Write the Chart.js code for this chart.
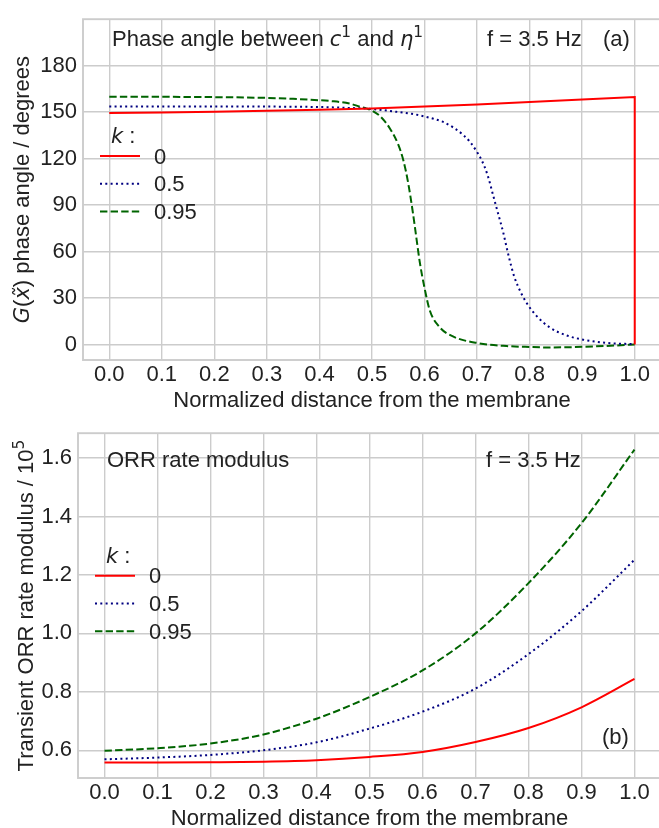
<!DOCTYPE html>
<html>
<head>
<meta charset="utf-8">
<script src="https://cdn.jsdelivr.net/npm/chart.js@4.4.1/dist/chart.umd.min.js"></script>
<style>
	html, body { margin: 0; padding: 0; background: #fff; overflow: hidden; }
	#wrap { position: relative; width: 659px; height: 828px; overflow: hidden; }
	canvas { position: absolute; left: 0; }
	#phaseChart { top: 0; }
	#orrChart { top: 414px; }
</style>
</head>
<body>
<div id="wrap">
	<canvas id="phaseChart" width="670" height="414"></canvas>
	<canvas id="orrChart" width="670" height="418"></canvas>
</div>
<script>
var FONT = '"Liberation Sans", Arial, sans-serif';
var MATH = '"DejaVu Sans", sans-serif';
var TEXT = "#222";
var GRID = "#cccccc";

// tick labels
var xTicks = [0, 0.1, 0.2, 0.3, 0.4, 0.5, 0.6, 0.7, 0.8, 0.9, 1.0];
var phaseTicks = [0, 30, 60, 90, 120, 150, 180];
var orrTicks = [0.6, 0.8, 1.0, 1.2, 1.4, 1.6];
var kLabels = ["0", "0.5", "0.95"];

// (a) phase angle, degrees
var phaseX0 = [0, 0.1, 0.2, 0.3, 0.4, 0.5, 0.6, 0.7, 0.8, 0.9, 1.0, 1.0];
var phase0 = [149.5, 149.8, 150.3, 150.9, 151.6, 152.3, 153.6, 155.0, 156.5, 158.1, 159.7, 0];

var phaseX05 = [0, 0.1, 0.2, 0.3, 0.4, 0.45, 0.5, 0.54, 0.576, 0.598, 0.617, 0.636, 0.655, 0.674, 0.687,
	0.699, 0.709, 0.72, 0.73, 0.74, 0.75, 0.756, 0.762, 0.771, 0.784, 0.797, 0.813, 0.838, 0.87, 0.902, 0.946, 1.0];
var phase05 = [153.7, 153.7, 153.7, 153.6, 153.3, 152.8, 152.0, 150.5, 148.9, 147.4, 145.7, 143.6, 140, 135.2, 130.6,
	124.7, 118.8, 109.3, 97, 84.5, 72, 63, 54.5, 43.5, 33.1, 25.4, 18.5, 11.1, 5.9, 3.1, 1.05, 0.2];

var phaseX095 = [0, 0.1, 0.2, 0.3, 0.35, 0.4, 0.42, 0.457, 0.477, 0.49, 0.5, 0.515, 0.534, 0.55, 0.56,
	0.569, 0.577, 0.584, 0.591, 0.6, 0.61, 0.629, 0.654, 0.7, 0.756, 0.8, 0.838, 0.9, 0.966, 1.0];
var phase095 = [160, 159.9, 159.7, 159.2, 158.6, 157.7, 157.2, 155.6, 153.5, 152.3, 151.0, 147.5, 139.5, 129, 118.5,
	104, 87, 70, 53, 36.5, 22, 11.1, 5.2, 1.0, -1.0, -1.6, -1.9, -1.5, -0.6, 0];

// (b) ORR rate modulus / 1e5
var orrX = [0, 0.1, 0.2, 0.3, 0.4, 0.5, 0.6, 0.7, 0.8, 0.9, 1.0];
var orr0 = [0.558, 0.558, 0.559, 0.561, 0.566, 0.577, 0.594, 0.628, 0.676, 0.747, 0.844];
var orr05 = [0.569, 0.575, 0.584, 0.600, 0.627, 0.674, 0.732, 0.811, 0.929, 1.076, 1.252];
var orr095 = [0.598, 0.607, 0.623, 0.654, 0.708, 0.782, 0.873, 1.0, 1.172, 1.377, 1.629];

var lineStyles = [
	{ color: "#ff0000", dash: [] },
	{ color: "#000080", dash: [2, 3.3] },
	{ color: "#006400", dash: [7.4, 3.2] }
];

function pts(xs, ys) {
	return xs.map(function (x, i) { return { x: x, y: ys[i] }; });
}

function makeDataset(i, xs, ys, smooth) {
	return {
		label: kLabels[i],
		data: pts(xs, ys),
		borderColor: lineStyles[i].color,
		borderDash: lineStyles[i].dash,
		borderWidth: 2,
		pointRadius: 0,
		fill: false,
		tension: 0,
		cubicInterpolationMode: smooth ? "monotone" : "default"
	};
}

// mixed text: plain runs, math italic runs (m), superscripts (sup)
function runFont(r) {
	if (r.sup) return "15.4px " + MATH;
	if (r.m) return "oblique 21px " + MATH;
	return "22px " + FONT;
}
function drawRuns(ctx, runs, x, y) {
	runs.forEach(function (r) {
		ctx.font = runFont(r);
		ctx.fillText(r.t, x, r.sup ? y - 9 : y);
		x += ctx.measureText(r.t).width;
	});
	return x;
}
function runsWidth(ctx, runs) {
	var w = 0;
	runs.forEach(function (r) {
		ctx.font = runFont(r);
		w += ctx.measureText(r.t).width;
	});
	return w;
}

var decor = {
	id: "decor",
	afterDraw: function (chart, args, o) {
		var ctx = chart.ctx, a = chart.chartArea;
		ctx.save();
		// axes frame
		ctx.strokeStyle = GRID;
		ctx.lineWidth = 1.9;
		ctx.strokeRect(a.left, a.top, a.right - a.left, a.bottom - a.top);

		ctx.fillStyle = TEXT;
		ctx.textBaseline = "alphabetic";
		ctx.textAlign = "left";
		o.texts.forEach(function (t) { drawRuns(ctx, t.runs, t.x, t.y); });

		// y label, rotated
		ctx.save();
		ctx.translate(o.ylabel.x, (a.top + a.bottom) / 2);
		ctx.rotate(-Math.PI / 2);
		drawRuns(ctx, o.ylabel.runs, -runsWidth(ctx, o.ylabel.runs) / 2, 0);
		ctx.restore();

		// legend
		var L = o.legend;
		drawRuns(ctx, [{ t: "k", m: true }, { t: " :" }], L.x + 11, L.y - 13);
		chart.data.datasets.forEach(function (ds, i) {
			var y = L.y + i * 27.8;
			ctx.strokeStyle = ds.borderColor;
			ctx.lineWidth = 2;
			ctx.setLineDash(ds.borderDash);
			ctx.beginPath();
			ctx.moveTo(L.x, y);
			ctx.lineTo(L.x + 40, y);
			ctx.stroke();
			ctx.setLineDash([]);
			ctx.font = "22px " + FONT;
			ctx.fillText(ds.label, L.x + 54, y + 7.5);
		});
		ctx.restore();
	}
};

function axisX() {
	return {
		type: "linear",
		min: -0.05,
		max: 1.05,
		afterBuildTicks: function (s) { s.ticks = xTicks.map(function (v) { return { value: v }; }); },
		afterFit: function (s) { s.height = 54; },
		grid: { color: GRID, lineWidth: 1.4, drawTicks: false },
		border: { display: false },
		ticks: {
			padding: 2, color: TEXT, maxRotation: 0, autoSkip: false,
			font: { family: FONT, size: 22 },
			callback: function (v) { return v.toFixed(1); }
		},
		title: {
			display: true,
			text: "Normalized distance from the membrane",
			color: TEXT,
			font: { family: FONT, size: 22 },
			padding: { top: 0, bottom: 0 }
		}
	};
}

function axisY(min, max, ticks, width, fmt) {
	return {
		type: "linear",
		min: min,
		max: max,
		afterBuildTicks: function (s) { s.ticks = ticks.map(function (v) { return { value: v }; }); },
		afterFit: function (s) { s.width = width; },
		grid: { color: GRID, lineWidth: 1.4, drawTicks: false },
		border: { display: false },
		ticks: { padding: 6, color: TEXT, font: { family: FONT, size: 22 }, callback: fmt }
	};
}

new Chart(document.getElementById("phaseChart"), {
	type: "line",
	data: {
		datasets: [
			makeDataset(0, phaseX0, phase0, false),
			makeDataset(1, phaseX05, phase05, true),
			makeDataset(2, phaseX095, phase095, true)
		]
	},
	options: {
		responsive: false,
		animation: false,
		layout: { padding: { top: 11, right: 9, left: 0, bottom: 0 } },
		scales: {
			x: axisX(),
			y: axisY(-10, 210, phaseTicks, 83, function (v) { return String(v); })
		},
		plugins: {
			legend: { display: false },
			tooltip: { enabled: false },
			decor: {
				texts: [
					{ x: 112, y: 46, runs: [{ t: "Phase angle between " }, { t: "c", m: true }, { t: "1", sup: true },
						{ t: " and " }, { t: "\u03b7", m: true }, { t: "1", sup: true }] },
					{ x: 487, y: 46, runs: [{ t: "f = 3.5 Hz" }] },
					{ x: 603, y: 46, runs: [{ t: "(a)" }] }
				],
				ylabel: { x: 28.5, runs: [{ t: "G", m: true }, { t: "(" }, { t: "x\u0303", m: true }, { t: ") phase angle / degrees" }] },
				legend: { x: 100, y: 156 }
			}
		}
	},
	plugins: [decor]
});

new Chart(document.getElementById("orrChart"), {
	type: "line",
	data: {
		datasets: [
			makeDataset(0, orrX, orr0, true),
			makeDataset(1, orrX, orr05, true),
			makeDataset(2, orrX, orr095, true)
		]
	},
	options: {
		responsive: false,
		animation: false,
		layout: { padding: { top: 17, right: 9, left: 0, bottom: 0 } },
		scales: {
			x: axisX(),
			y: axisY(0.505, 1.685, orrTicks, 78, function (v) { return v.toFixed(1); })
		},
		plugins: {
			legend: { display: false },
			tooltip: { enabled: false },
			decor: {
				texts: [
					{ x: 107, y: 53, runs: [{ t: "ORR rate modulus" }] },
					{ x: 486, y: 53, runs: [{ t: "f = 3.5 Hz" }] },
					{ x: 602, y: 330, runs: [{ t: "(b)" }] }
				],
				ylabel: { x: 32.5, runs: [{ t: "Transient ORR rate modulus / 10" }, { t: "5", sup: true }] },
				legend: { x: 95, y: 161.7 }
			}
		}
	},
	plugins: [decor]
});
</script>
</body>
</html>
